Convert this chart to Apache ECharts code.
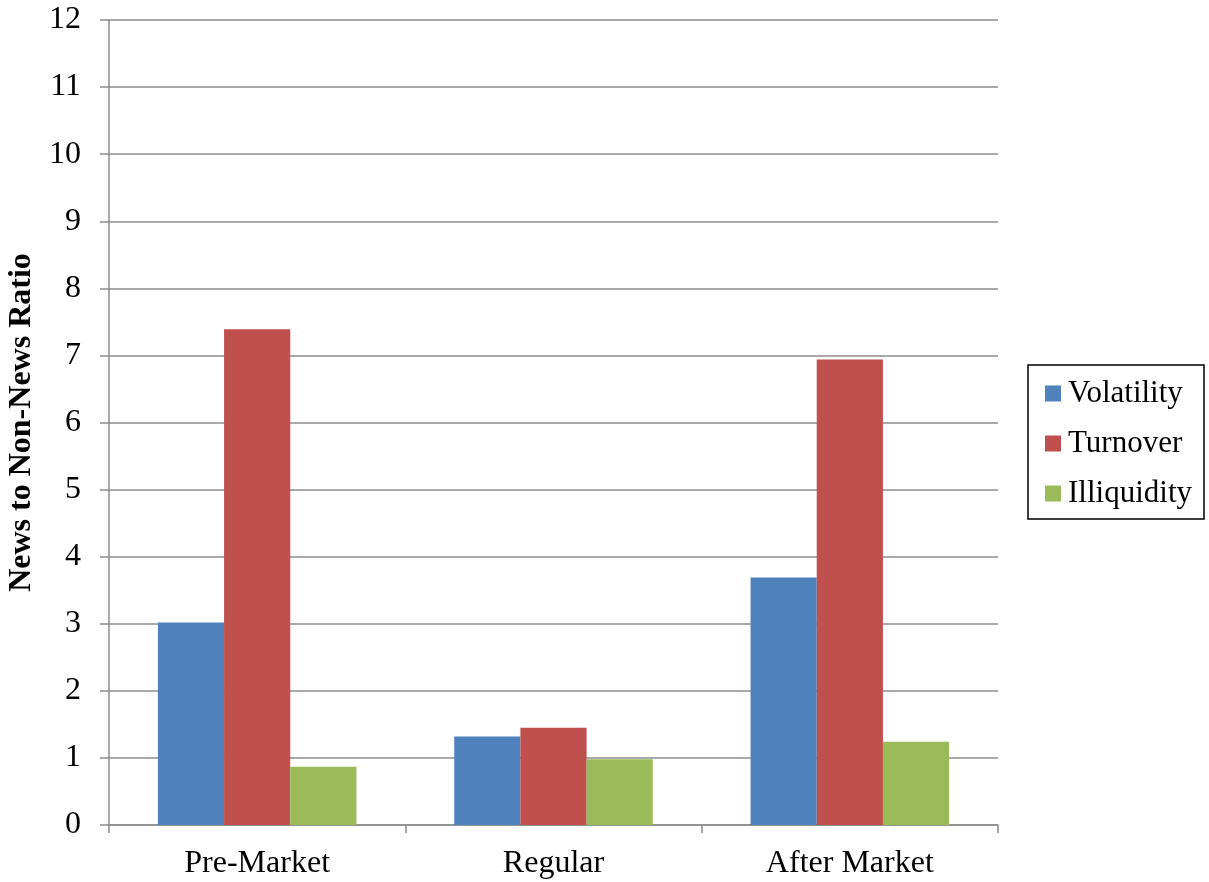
<!DOCTYPE html>
<html>
<head>
<meta charset="utf-8">
<script src="https://cdn.jsdelivr.net/npm/echarts@6/dist/echarts.min.js"></script>
<style>
  html, body { margin: 0; padding: 0; background: #fff; }
  #chart { width: 1209px; height: 882px; }
</style>
</head>
<body>
<div id="chart"></div>
<script>
const categories = ['Pre-Market', 'Regular', 'After Market'];
const volatility = [3.02, 1.32, 3.69];
const turnover = [7.39, 1.45, 6.94];
const illiquidity = [0.87, 0.98, 1.24];
const yTicks = [0, 1, 2, 3, 4, 5, 6, 7, 8, 9, 10, 11, 12];

const font = '"Liberation Serif", "Times New Roman", serif';
const gray = '#8c8c8c';

const chart = echarts.init(document.getElementById('chart'));

const option = {
    animation: false,
    textStyle: { fontFamily: font },
    grid: {
        left: 109,
        right: 211,
        top: 20,
        bottom: 57,
        containLabel: false,
        outerBoundsMode: 'none',
    },
    legend: {
        orient: 'vertical',
        right: 5,
        top: 365,
        itemWidth: 16,
        itemHeight: 16,
        itemGap: 19,
        padding: [13, 12, 10, 17],
        borderColor: '#000',
        borderWidth: 1.5,
        icon: 'rect',
        textStyle: { fontFamily: font, fontSize: 31, color: '#000', padding: [0, 0, 0, 2] },
        data: ['Volatility', 'Turnover', 'Illiquidity'],
    },
    xAxis: {
        type: 'category',
        data: categories,
        axisLine: { lineStyle: { color: gray, width: 1.5 } },
        axisTick: { show: true, length: 8, lineStyle: { color: gray, width: 1.5 } },
        axisLabel: { margin: 23, fontSize: 32, color: '#000', fontFamily: font },
        splitLine: { show: false },
    },
    yAxis: {
        type: 'value',
        min: yTicks[0],
        max: yTicks[yTicks.length - 1],
        interval: 1,
        name: 'News to Non-News Ratio',
        nameLocation: 'middle',
        nameGap: 71,
        nameRotate: 90,
        nameTextStyle: { fontFamily: font, fontSize: 32, fontWeight: 'bold', color: '#000' },
        axisLine: { show: true, lineStyle: { color: gray, width: 1.5 } },
        axisTick: { show: true, length: 9, lineStyle: { color: gray, width: 1.5 } },
        axisLabel: { margin: 28, fontSize: 32, color: '#000', fontFamily: font },
        splitLine: { show: true, lineStyle: { color: gray, width: 1.5 } },
    },
    series: [
        {
            name: 'Volatility',
            type: 'bar',
            data: volatility,
            barGap: '0%',
            barCategoryGap: '33%',
            itemStyle: { color: '#4f81bd' },
        },
        {
            name: 'Turnover',
            type: 'bar',
            data: turnover,
            barGap: '0%',
            barCategoryGap: '33%',
            itemStyle: { color: '#c0504d' },
        },
        {
            name: 'Illiquidity',
            type: 'bar',
            data: illiquidity,
            barGap: '0%',
            barCategoryGap: '33%',
            itemStyle: { color: '#9bbb59' },
        },
    ],
};

chart.setOption(option);
</script>
</body>
</html>
